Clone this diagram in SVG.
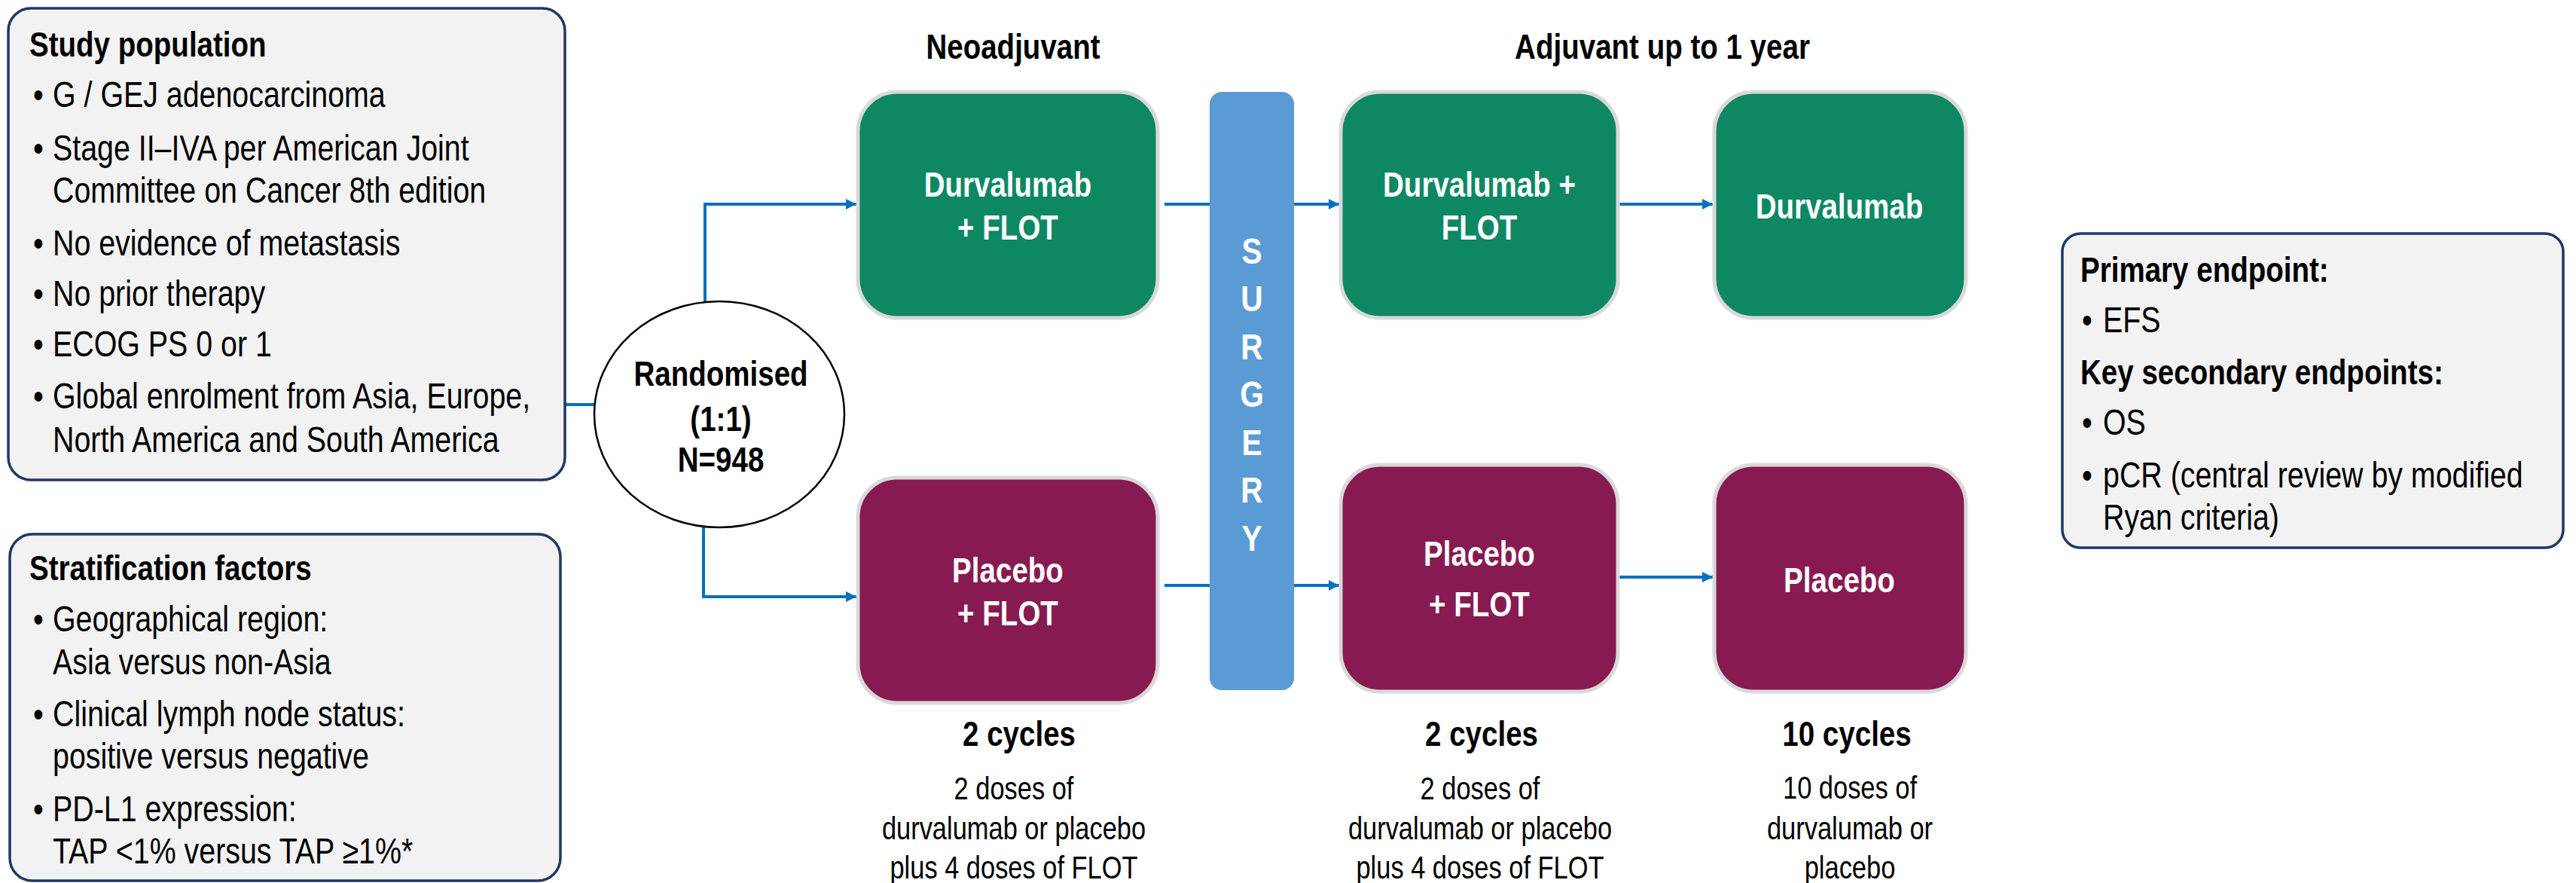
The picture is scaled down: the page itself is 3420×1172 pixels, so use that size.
<svg xmlns="http://www.w3.org/2000/svg" width="3420" height="1172" viewBox="0 0 3420 1172">
<defs>
<marker id="arr" markerUnits="userSpaceOnUse" markerWidth="16" markerHeight="16" refX="14" refY="7" orient="auto">
<path d="M0,0 L14,7 L0,14 z" fill="#0070c0"/>
</marker>
<style>
text{font-family:'Liberation Sans',Arial,sans-serif;}
.info{fill:#f2f2f2;stroke:#1f3864;stroke-width:3.5;}
.t{font-size:48px;fill:#000;}
.hd{font-size:47px;font-weight:bold;fill:#000;}
.nt{font-size:47px;font-weight:bold;fill:#fff;text-anchor:middle;}
.green{fill:#0d8863;stroke:#d9d9d9;stroke-width:5;}
.mag{fill:#871a51;stroke:#d9d9d9;stroke-width:5;}
.ds{font-size:42px;fill:#000;text-anchor:middle;}
.cy{font-size:47px;font-weight:bold;fill:#000;text-anchor:middle;}
.c{fill:none;stroke:#0070c0;stroke-width:4;}
.sl{font-size:48px;font-weight:bold;fill:#fff;text-anchor:middle;}
</style>
</defs>
<rect width="3420" height="1172" fill="#fff"/>

<g id="connectors">
<path class="c" d="M750,537 H790"/>
<path class="c" d="M936,400 V271 H1137" marker-end="url(#arr)"/>
<path class="c" d="M934,700 V792 H1137" marker-end="url(#arr)"/>
<path class="c" d="M1546,271 H1778" marker-end="url(#arr)"/>
<path class="c" d="M1546,777 H1778" marker-end="url(#arr)"/>
<path class="c" d="M2150,271 H2274" marker-end="url(#arr)"/>
<path class="c" d="M2150,766 H2274" marker-end="url(#arr)"/>
</g>

<g id="study-population">
<rect class="info" x="11" y="11" width="739" height="626" rx="30"/>
<text class="hd" transform="translate(39,0) scale(0.82,1)" x="0" y="75">Study population</text>
<g class="t" transform="translate(44,0) scale(0.82,1)">
<text x="0" y="142">•</text>
<text x="0" y="213">•</text>
<text x="0" y="339">•</text>
<text x="0" y="406">•</text>
<text x="0" y="473">•</text>
<text x="0" y="542">•</text>
</g>
<g class="t" transform="translate(70,0) scale(0.82,1)">
<text x="0" y="142">G / GEJ adenocarcinoma</text>
<text x="0" y="213">Stage II–IVA per American Joint</text>
<text x="0" y="269">Committee on Cancer 8th edition</text>
<text x="0" y="339">No evidence of metastasis</text>
<text x="0" y="406">No prior therapy</text>
<text x="0" y="473">ECOG PS 0 or 1</text>
<text x="0" y="542">Global enrolment from Asia, Europe,</text>
<text x="0" y="600">North America and South America</text>
</g>
</g>

<g id="stratification">
<rect class="info" x="13" y="709" width="731" height="460" rx="30"/>
<text class="hd" transform="translate(39,0) scale(0.82,1)" x="0" y="770">Stratification factors</text>
<g class="t" transform="translate(44,0) scale(0.82,1)">
<text x="0" y="838">•</text>
<text x="0" y="964">•</text>
<text x="0" y="1090">•</text>
</g>
<g class="t" transform="translate(70,0) scale(0.82,1)">
<text x="0" y="838">Geographical region:</text>
<text x="0" y="895">Asia versus non-Asia</text>
<text x="0" y="964">Clinical lymph node status:</text>
<text x="0" y="1020">positive versus negative</text>
<text x="0" y="1090">PD-L1 expression:</text>
<text x="0" y="1146">TAP &lt;1% versus TAP ≥1%*</text>
</g>
</g>

<g id="randomised">
<ellipse cx="955" cy="550" rx="166" ry="150" fill="#fff" stroke="#000" stroke-width="2.5"/>
<g transform="translate(957,0) scale(0.82,1)">
<text class="cy" x="0" y="512">Randomised</text>
<text class="cy" x="0" y="572">(1:1)</text>
<text class="cy" x="0" y="626">N=948</text>
</g>
</g>

<g id="phase-labels">
<text class="cy" transform="translate(1345,0) scale(0.82,1)" x="0" y="78">Neoadjuvant</text>
<text class="cy" transform="translate(2207,0) scale(0.82,1)" x="0" y="78">Adjuvant up to 1 year</text>
</g>

<g id="neo-durvalumab">
<rect class="green" x="1139" y="122" width="398" height="300" rx="52"/>
<g transform="translate(1338,0) scale(0.82,1)">
<text class="nt" x="0" y="261">Durvalumab</text>
<text class="nt" x="0" y="318">+ FLOT</text>
</g>
</g>

<g id="neo-placebo">
<rect class="mag" x="1139" y="634" width="398" height="299" rx="52"/>
<g transform="translate(1338,0) scale(0.82,1)">
<text class="nt" x="0" y="773">Placebo</text>
<text class="nt" x="0" y="830">+ FLOT</text>
</g>
</g>

<g id="surgery">
<rect x="1606" y="122" width="112" height="794" rx="16" fill="#5b9bd5"/>
<g transform="translate(1662,0) scale(0.85,1)">
<text class="sl" x="0" y="350">S</text>
<text class="sl" x="0" y="413">U</text>
<text class="sl" x="0" y="477">R</text>
<text class="sl" x="0" y="540">G</text>
<text class="sl" x="0" y="604">E</text>
<text class="sl" x="0" y="667">R</text>
<text class="sl" x="0" y="731">Y</text>
</g>
</g>

<g id="adj-durvalumab-flot">
<rect class="green" x="1780" y="122" width="368" height="300" rx="52"/>
<g transform="translate(1964,0) scale(0.82,1)">
<text class="nt" x="0" y="261">Durvalumab +</text>
<text class="nt" x="0" y="318">FLOT</text>
</g>
</g>

<g id="adj-placebo-flot">
<rect class="mag" x="1780" y="617" width="368" height="301" rx="52"/>
<g transform="translate(1964,0) scale(0.82,1)">
<text class="nt" x="0" y="751">Placebo</text>
<text class="nt" x="0" y="818">+ FLOT</text>
</g>
</g>

<g id="adj-durvalumab">
<rect class="green" x="2276" y="122" width="334" height="300" rx="52"/>
<text class="nt" transform="translate(2442,0) scale(0.82,1)" x="0" y="290">Durvalumab</text>
</g>

<g id="adj-placebo">
<rect class="mag" x="2276" y="617" width="334" height="301" rx="52"/>
<text class="nt" transform="translate(2442,0) scale(0.82,1)" x="0" y="786">Placebo</text>
</g>

<g id="neo-cycles">
<text class="cy" transform="translate(1353,0) scale(0.82,1)" x="0" y="990">2 cycles</text>
<g transform="translate(1346,0) scale(0.82,1)">
<text class="ds" x="0" y="1061">2 doses of</text>
<text class="ds" x="0" y="1114">durvalumab or placebo</text>
<text class="ds" x="0" y="1166">plus 4 doses of FLOT</text>
</g>
</g>

<g id="adj-cycles">
<text class="cy" transform="translate(1967,0) scale(0.82,1)" x="0" y="990">2 cycles</text>
<g transform="translate(1965,0) scale(0.82,1)">
<text class="ds" x="0" y="1061">2 doses of</text>
<text class="ds" x="0" y="1114">durvalumab or placebo</text>
<text class="ds" x="0" y="1166">plus 4 doses of FLOT</text>
</g>
</g>

<g id="maint-cycles">
<text class="cy" transform="translate(2452,0) scale(0.82,1)" x="0" y="990">10 cycles</text>
<g transform="translate(2456,0) scale(0.82,1)">
<text class="ds" x="0" y="1060">10 doses of</text>
<text class="ds" x="0" y="1114">durvalumab or</text>
<text class="ds" x="0" y="1166">placebo</text>
</g>
</g>

<g id="endpoints">
<rect class="info" x="2738" y="310" width="665" height="417" rx="24"/>
<g transform="translate(2762,0) scale(0.82,1)">
<text class="hd" x="0" y="374">Primary endpoint:</text>
<text class="hd" x="0" y="510">Key secondary endpoints:</text>
</g>
<g class="t" transform="translate(2764,0) scale(0.82,1)">
<text x="0" y="441">•</text>
<text x="0" y="577">•</text>
<text x="0" y="647">•</text>
</g>
<g class="t" transform="translate(2792,0) scale(0.82,1)">
<text x="0" y="441">EFS</text>
<text x="0" y="577">OS</text>
<text x="0" y="647">pCR (central review by modified</text>
<text x="0" y="703">Ryan criteria)</text>
</g>
</g>
</svg>
